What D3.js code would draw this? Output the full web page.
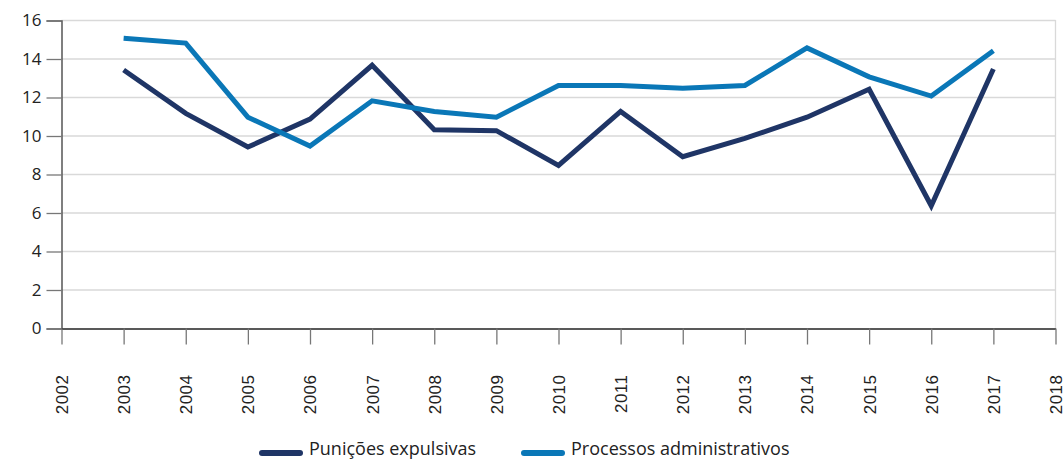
<!DOCTYPE html>
<html><head><meta charset="utf-8">
<script src="https://cdn.jsdelivr.net/npm/d3@7"></script>
<style>body{margin:0;background:#fff;}svg{display:block;font-family:"Open Sans",sans-serif;}</style>
</head><body>
<svg id="c" width="1063" height="459"></svg>
<script>
const years = [2003,2004,2005,2006,2007,2008,2009,2010,2011,2012,2013,2014,2015,2016,2017];
const tickYears = d3.range(2002,2019);
const punicoes = [13.4,11.15,9.4,10.85,13.65,10.3,10.25,8.45,11.25,8.9,9.85,10.95,12.4,6.35,13.45];
const processos = [15.05,14.8,10.95,9.45,11.8,11.25,10.95,12.6,12.6,12.45,12.6,14.55,13.05,12.05,14.4];
const yTicks = [0,2,4,6,8,10,12,14,16];
const seriesNames = ["Punições expulsivas","Processos administrativos"];
const colors = ["#1f3566","#0a77b7"];

const svg = d3.select("#c");
const x = d3.scaleLinear().domain([2002,2018]).range([61.5,1055.5]);
const y = d3.scaleLinear().domain([0,16]).range([328,20]);

// gridlines
svg.append("g").selectAll("line").data(yTicks.filter(d=>d>0)).join("line")
  .attr("x1",61.5).attr("x2",1055.5).attr("y1",d=>y(d)+0.5).attr("y2",d=>y(d)+0.5)
  .attr("stroke","#d9d9d9").attr("stroke-width",1.3);
// right border
svg.append("line").attr("x1",1055.5).attr("x2",1055.5).attr("y1",y(16)).attr("y2",y(0))
  .attr("stroke","#d9d9d9").attr("stroke-width",1.3);

// y axis
const ya = svg.append("g").attr("transform","translate(61.5,0.5)")
  .call(d3.axisLeft(y).tickValues(yTicks).tickSize(15).tickPadding(5));
ya.select(".domain").attr("stroke","#555").attr("stroke-width",1.5);
ya.selectAll(".tick line").attr("stroke","#777").attr("stroke-width",1.3);
ya.selectAll("text").attr("font-size",17).attr("fill","#222").attr("font-family","Open Sans");

// x axis
const xa = svg.append("g").attr("transform","translate(0,328.5)")
  .call(d3.axisBottom(x).tickValues(tickYears).tickFormat(d3.format("d")).tickSize(16).tickSizeOuter(0));
xa.select(".domain").attr("stroke","#222").attr("stroke-width",1.5);
xa.selectAll(".tick line").attr("stroke","#777").attr("stroke-width",1.3);
xa.selectAll("text").attr("font-size",17).attr("fill","#222").attr("font-family","Liberation Sans")
  .attr("letter-spacing",0.5)
  .attr("transform","rotate(-90)").attr("text-anchor","end").attr("dy","0.35em").attr("y",0).attr("x",-46);

// lines
const line = d3.line().x((d,i)=>x(years[i])).y(d=>y(d));
[punicoes,processos].forEach((s,k)=>{
  svg.append("path").datum(s).attr("d",line).attr("fill","none")
    .attr("stroke",colors[k]).attr("stroke-width",5).attr("stroke-linejoin","miter");
});

// legend
const leg = svg.append("g").attr("font-family","Open Sans").attr("font-size",18).attr("fill","#222");
const legX = [260,522];
seriesNames.forEach((n,k)=>{
  leg.append("line").attr("x1",legX[k]+2).attr("x2",legX[k]+40).attr("y1",453).attr("y2",453)
    .attr("stroke",colors[k]).attr("stroke-width",6).attr("stroke-linecap","round");
  leg.append("text").attr("x",legX[k]+49).attr("y",455).text(n);
});
</script>
</body></html>
